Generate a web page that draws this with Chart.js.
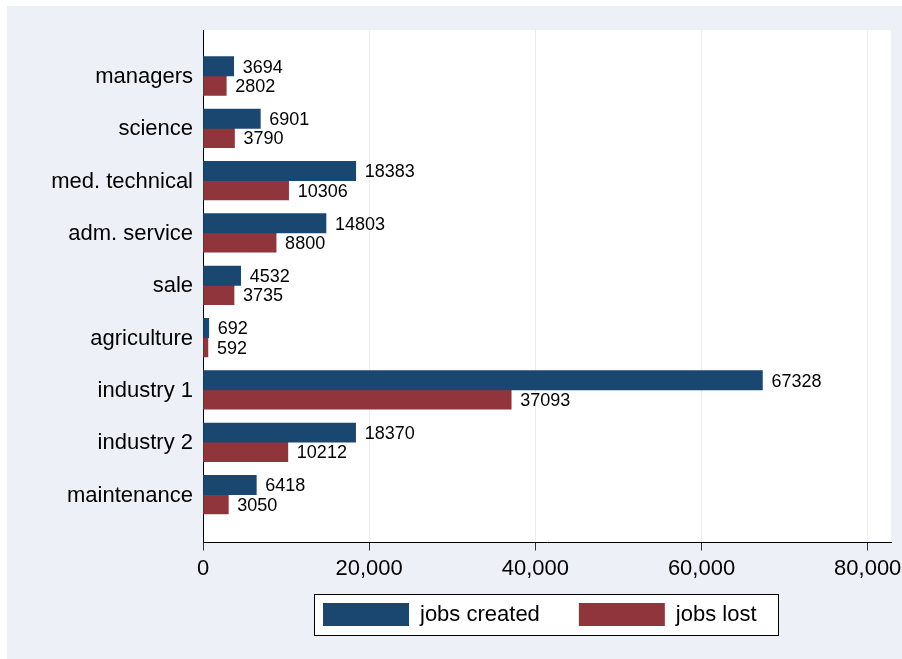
<!DOCTYPE html>
<html><head><meta charset="utf-8">
<script src="https://cdn.jsdelivr.net/npm/chart.js@4/dist/chart.umd.min.js"></script>
<style>html,body{margin:0;padding:0;background:#fff}canvas{display:block}</style>
</head><body>
<canvas id="c" width="902" height="659"></canvas>
<script>
const categories = ['managers','science','med. technical','adm. service','sale','agriculture','industry 1','industry 2','maintenance'];
const jobsCreated = [3694,6901,18383,14803,4532,692,67328,18370,6418];
const jobsLost = [2802,3790,10306,8800,3735,592,37093,10212,3050];
const xTicks = [0,20000,40000,60000,80000];
const seriesNames = ['jobs created','jobs lost'];

Chart.defaults.font.family = '"Liberation Sans", Arial, sans-serif';
const BG = '#EDF0F6';

const framePlugin = {
  id: 'frame',
  afterLayout(chart) {
    const lg = chart.legend;
    const p = lg.options.labels.padding;
    const start = (lg.left + p + lg.right - lg.lineWidths[0]) / 2;
    const dx = 323 - start;
    const dy = 603 - (lg.top + p);
    lg.left += dx; lg.right += dx; lg.top += dy; lg.bottom += dy;
  },
  beforeDraw(chart) {
    const ctx = chart.ctx, a = chart.chartArea;
    ctx.save();
    ctx.fillStyle = '#fff'; ctx.fillRect(0, 0, chart.width, chart.height);
    ctx.fillStyle = BG; ctx.fillRect(7, 6, chart.width - 7, chart.height - 6);
    ctx.fillStyle = '#fff'; ctx.fillRect(a.left, a.top, a.right - a.left, a.bottom - a.top);
    const hb = chart.legend.legendHitBoxes;
    if (hb && hb.length) {
      const last = hb[hb.length - 1];
      const l = Math.round(hb[0].left - 9), r = Math.round(last.left + last.width + 21);
      const t = Math.round(hb[0].top - 9), b = Math.round(hb[0].top + hb[0].height + 9);
      ctx.fillRect(l, t, r - l, b - t);
      ctx.strokeStyle = '#000'; ctx.lineWidth = 1;
      ctx.strokeRect(l + 0.5, t + 0.5, r - l, b - t);
    }
    ctx.restore();
  },
  afterDatasetsDraw(chart) {
    const ctx = chart.ctx;
    ctx.save();
    ctx.font = '18px "Liberation Sans", Arial, sans-serif';
    ctx.fillStyle = '#000';
    ctx.textAlign = 'left';
    ctx.textBaseline = 'middle';
    chart.data.datasets.forEach((ds, di) => {
      const meta = chart.getDatasetMeta(di);
      meta.data.forEach((el, i) => {
        ctx.fillText(String(ds.data[i].x), el.x + 9, el.y + 1.5);
      });
    });
    ctx.restore();
  }
};

new Chart(document.getElementById('c'), {
  type: 'bar',
  data: {
    datasets: [
      { label: seriesNames[0], data: jobsCreated.map((v, i) => ({ x: v, y: i })), backgroundColor: '#1A476F', borderWidth: 0, barThickness: 19.3 },
      { label: seriesNames[1], data: jobsLost.map((v, i) => ({ x: v, y: i })), backgroundColor: '#90353B', borderWidth: 0, barThickness: 19.3 }
    ]
  },
  options: {
    indexAxis: 'y',
    responsive: false,
    animation: false,
    devicePixelRatio: 1,
    layout: { padding: { top: 30, right: 11, left: 0, bottom: 0 } },
    scales: {
      x: {
        type: 'linear', min: 0, max: 82804, position: 'bottom', offset: false,
        afterFit: s => { s.height = 44.5; s.paddingLeft = 0; s.paddingRight = 0; },
        afterBuildTicks: s => { s.ticks = xTicks.map(v => ({ value: v })); },
        ticks: { callback: v => Number(v).toLocaleString('en-US'), font: { size: 22 }, color: '#000', padding: 5, maxRotation: 0, autoSkip: false },
        grid: { color: '#EAEEF4', lineWidth: 1, drawTicks: true, tickLength: 8, tickColor: '#333' },
        border: { color: '#000', width: 1 }
      },
      y: {
        type: 'linear', reverse: true, min: -0.879, max: 8.915, offset: false,
        afterFit: s => { s.width = 203; s.paddingTop = 0; s.paddingBottom = 0; },
        afterBuildTicks: s => { s.ticks = categories.map((c, i) => ({ value: i })); },
        ticks: { callback: v => (categories[v] !== undefined ? categories[v] : ''), font: { size: 22 }, color: '#000', padding: 10, autoSkip: false, labelOffset: 1 },
        grid: { display: false, drawTicks: false, offset: false },
        border: { color: '#000', width: 1 }
      }
    },
    plugins: {
      legend: {
        position: 'bottom', fullSize: false,
        labels: { boxWidth: 86, boxHeight: 23, padding: 39, font: { size: 22 }, color: '#000' }
      },
      tooltip: { enabled: false }
    }
  },
  plugins: [framePlugin]
});
</script>
</body></html>
